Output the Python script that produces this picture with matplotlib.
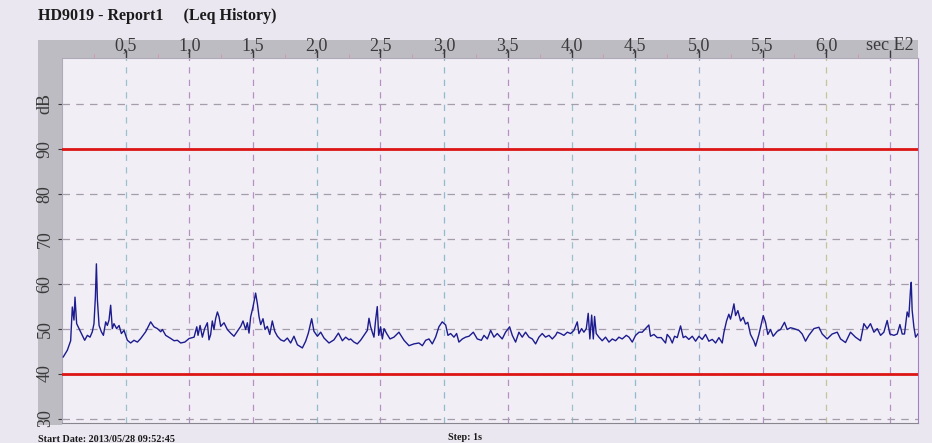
import numpy as np
import matplotlib
matplotlib.use('Agg')
import matplotlib.pyplot as plt
from matplotlib.patches import Rectangle

plt.rcParams['font.family'] = ['Liberation Serif', 'DejaVu Serif']

# Leq history, time in seconds
t_sec = [1, 4.2, 6.8, 8.1, 9.4, 10.2, 11.5, 13.4, 16, 17.8, 19.9, 22, 23.8, 25.1, 26.2, 27, 27.8,
         29.1, 30.9, 32.5, 34.3, 35.6, 36.9, 38.2, 39.5, 40.8, 42.9, 44.8, 46.6, 48.7, 51.3, 53.9,
         56.5, 59.2, 61.8, 65.7, 69.6, 72.2, 74.9, 77.5, 78.8, 81.4, 85.4, 88, 90.6, 93.2, 96.4,
         99.8, 103.7, 105.8, 106.8, 108.4, 110.2, 112,
         114.1, 115.4, 116.7, 118, 119.3, 120.6, 122, 123.3, 124.6, 127.2, 129.8, 132.4, 135, 137.7,
         140.3, 142.1, 144.2, 145.5, 146.8, 148.1, 150, 152, 153.4, 154.7, 156, 157.8, 159.4, 161.2,
         163.1, 165.1, 167, 169.1, 171.7, 174.3, 176.9, 179.5, 182.1, 184.8, 188.7, 191.3, 193.4,
         196, 197.8, 200.5, 203.1, 205.7, 209.6, 213.5, 217, 220.1, 222.7, 225.3,
         226.6, 229.2, 231.8, 234.4, 237.1, 239.7, 241, 242.3, 243.6, 244.9, 246.2, 247.5, 248.6,
         250.1, 251.5, 252.8, 254.9, 257.5, 260.6, 264.5, 268.5, 272.4, 276.3, 280.2, 282.9, 285.5,
         288.1, 290.7, 293.3, 295.9, 298.5, 301.2, 303, 305.1, 307.7, 309.8, 311.6, 314.3, 316.9,
         319.5, 322.9, 326, 329.2, 331.3, 333.9, 336.5, 339.1,
         341.7, 345.6, 348.2, 351.4, 353.5, 356.1, 358.7, 361.3, 363.9, 366.6, 369.2, 371.8, 374.4,
         377, 379.6, 382.3, 384.9, 387.5, 388.8, 391.4, 394, 396.7, 399.3, 401.9, 404.5, 405.8,
         407.9, 409.7, 411.6, 413.1, 414.4, 415.8, 417.1, 418.1, 419.4, 421.5, 424.1, 426.7, 429.4,
         432, 434.6, 437.2, 439.8, 443, 445.1, 447.7, 450.3, 453,
         455.5, 458.1, 460.7, 462, 464.7, 467.3, 470.4, 473.8, 475.1, 477.2, 479.1, 480.9, 483,
         485.6, 487.7, 489.5, 492.1, 494.8, 497.4, 500, 502.6, 505.2, 507.8, 510.5, 513.1, 515.7,
         518.3, 519.6, 521.7, 523.5, 524.8, 526.1, 527.5, 528.8, 530.6, 532.7, 534.8, 536.6, 538.4,
         540.5, 543.2, 544.5, 547.1, 550.5, 552.3, 554.1, 556.2, 558.3, 561.5, 564.1, 567.2, 569.3,
         571.9,
         574.6, 578.5, 581.1, 583.7, 586.3, 590.3, 594.2, 596.8, 600.7, 604.6, 608.6, 611.2, 615.1,
         619, 622.9, 626.9, 629.5, 632.1, 634.7, 637.4, 640, 642.6, 645.2, 647.8, 649.9, 653.1,
         655.7, 657.8, 659.6, 661.4, 663.5, 664.8, 666.1, 666.7, 667.4, 668.8, 670.1, 671.9]

leq_db = [43.7, 45.2, 47.3, 54.8, 51.9, 57.0, 51.1, 50, 48.5, 47.4, 48.5, 48.1, 49.3, 51.1, 57, 64.4,
          56.3, 50.7, 49.3, 48.5, 51.5, 50.7, 51.9, 55.2, 50, 51.1, 50, 50.7, 48.9, 49.6, 47.4, 46.8,
          47.4, 47.0, 47.8, 49.3, 51.5, 50.4, 50, 49.3, 49.8, 48.5, 47.8, 47.3, 47.4, 46.8, 47.0,
          47.8, 48.1, 50.4, 48.5, 50.7, 48.1, 50,
          51.3, 47.5, 48.7, 51.7, 49.8, 52.2, 53.7, 52.6, 50.5, 51.3, 49.8, 49.0, 48.3, 49.4,
          50.5, 51.7, 49.8, 51.3, 49.0, 52.6, 54.9, 57.9, 55.5, 52.6, 50.9, 52.2, 49.8, 50.5,
          48.7, 51.7, 49.4, 48.3, 47.5, 47.2, 47.9, 46.8, 48.3, 46.4, 45.7, 47.2, 49,
          52.2, 49.4, 48.3, 49.2, 47.9, 46.8, 47.5, 49, 47.3, 48.1, 47.5,
          47.7, 47.0, 46.6, 47.4, 48.5, 49.6, 52.3, 50.4, 49.2, 48.1, 51.9, 54.9, 48.5,
          50.4, 47.7, 50, 48.9, 47.7, 48.1, 49.2, 47.4, 46.2, 46.6, 46.8, 46.2, 47.4,
          47.7, 46.6, 48.1, 50.4, 51.5, 50.8, 48.5, 48.9, 48.1, 48.9, 47.0, 47.7, 48.1,
          48.3, 49.2, 47.7, 47.4, 48.5, 47.7, 49.6, 48.1,
          48.9, 47.7, 49.2, 50.4, 48.5, 47.0, 49.2, 48.1, 49.2, 48.1, 47.7, 46.6, 48.1,
          48.9, 48.1, 48.5, 47.7, 48.5, 49.2, 48.9, 48.5, 49.2, 48.9, 49.6, 51.5, 48.9,
          50, 49.2, 50, 53.4, 47.7, 53.0, 47.7, 52.7, 48.9, 48.1, 47.3, 48.1, 47.0,
          47.7, 47.3, 48.1, 47.7, 48.5, 48.1, 47.0, 48.5, 49.2,
          49.2, 50, 50.8, 48.3, 48.7, 48, 48, 46.8, 48.7, 48, 46.8, 48.3, 48,
          50.6, 48, 48.3, 47.6, 48.3, 47.2, 48.3, 47.6, 48.7, 47.2, 47.6, 46.8, 48,
          46.8, 49.1, 51.7, 53.2, 52.1, 53.6, 55.5, 52.9, 54, 51.7, 52.5, 51, 51.4,
          48.7, 47.2, 46.1, 48.7, 52.9, 51.4, 48.7, 49.8, 48.3, 49.4, 49.8, 51.4, 49.8,
          50.2,
          50, 49.6, 48.8, 47.2, 48.5, 50, 50.3, 48.8, 47.7, 48.8, 49.2, 47.7, 46.9,
          49.2, 48.1, 47.3, 51.1, 50, 51.1, 49.2, 50, 48.5, 49.2, 51.8, 48.8, 48.5,
          48.8, 50.9, 48.8, 48.8, 53.7, 52.6, 58.6, 60.3, 54.1, 50.3, 48.1, 48.8]

limit_high = 90
limit_low = 40
x_ticks = [0.5, 1.0, 1.5, 2.0, 2.5, 3.0, 3.5, 4.0, 4.5, 5.0, 5.5, 6.0, 6.5]
x_labels = ['0,5', '1,0', '1,5', '2,0', '2,5', '3,0', '3,5', '4,0', '4,5', '5,0', '5,5', '6,0', 'sec E2']
y_ticks = [30, 40, 50, 60, 70, 80, 90, 100]
y_labels = ['30', '40', '50', '60', '70', '80', '90', 'dB']

W, H = 932, 443
fig = plt.figure(figsize=(W / 100, H / 100), dpi=100, facecolor='#ebe7f0')

# gray header band and left strip of the printout (behind the axes)
band = '#bdbcc3'
fig.patches.append(Rectangle((38 / W, 1 - 58 / H), (918 - 38) / W, 18 / H,
                             transform=fig.transFigure, facecolor=band, edgecolor='none', zorder=-5))
fig.patches.append(Rectangle((38 / W, 1 - 425 / H), 24 / W, 385 / H,
                             transform=fig.transFigure, facecolor=band, edgecolor='none', zorder=-5))

ax = fig.add_axes([62 / W, 1 - 423 / H, (918 - 62) / W, (423 - 58) / H])
ax.set_facecolor('#f1eef6')

t = np.array(t_sec) / 100.0
ax.plot(t, leq_db, color='#1c1c8e', lw=1.0, zorder=3)
ax.axhline(limit_high, color='#dd1515', lw=2.0, zorder=4)
ax.axhline(limit_low, color='#dd1515', lw=2.0, zorder=4)

ax.set_xlim(0, 6.72)
ax.set_ylim(29.0, 110.2)

# grid: dashed, slightly coloured like the printout
grid_cols = ['#9cc0cc', '#b88fc4', '#b88fc4', '#8fbccb', '#b88fc4', '#8fbccb', '#b88fc4',
             '#9cc0cc', '#8fbccb', '#9cb4cc', '#b88fc4', '#c8c49a', '#b88fc4']
for xv, c in zip(x_ticks, grid_cols):
    ax.axvline(xv, color=c, lw=0.9, ls=(0, (5, 5)), zorder=1)
for yv in y_ticks:
    ax.axhline(yv, color='#a59eaa', lw=0.9, ls=(0, (6, 5)), zorder=1)

ax.xaxis.tick_top()
ax.set_xticks(x_ticks)
ax.set_xticklabels(x_labels)
ax.set_xticks(np.arange(0.25, 6.6, 0.5), minor=True)
ax.tick_params(axis='x', which='major', length=6, width=1, pad=-3, labelsize=13, colors='#3a3a3a')
ax.tick_params(axis='x', which='minor', length=3, width=0.8, top=True, bottom=False, colors='#d49ab0')
for tk, c in zip(ax.xaxis.get_major_ticks(), grid_cols):
    tk.tick2line.set_color(c)

ax.set_yticks(y_ticks)
ax.set_yticklabels(y_labels, rotation=90, va='center')
ax.tick_params(axis='y', length=3, pad=3, labelsize=13, colors='#3a3a3a')
for tk in ax.yaxis.get_major_ticks():
    tk.tick1line.set_color('#8fbccb')

for s in ['top', 'left']:
    ax.spines[s].set_color('#b0aab8')
ax.spines['bottom'].set_color('#8a8690')
ax.spines['right'].set_color('#a080c0')

fig.text(38 / W, 1 - 16 / H, 'HD9019 - Report1     (Leq History)', fontsize=11.5, fontweight='bold',
         va='center', ha='left', color='#1a1a1a')
fig.text(38 / W, 1 - 439 / H, 'Start Date: 2013/05/28 09:52:45', fontsize=7.3, fontweight='bold',
         va='center', ha='left', color='#1a1a1a')
fig.text(448 / W, 1 - 437 / H, 'Step: 1s', fontsize=7.3, fontweight='bold',
         va='center', ha='left', color='#1a1a1a')

fig.savefig('out.png', dpi=100, facecolor=fig.get_facecolor())
